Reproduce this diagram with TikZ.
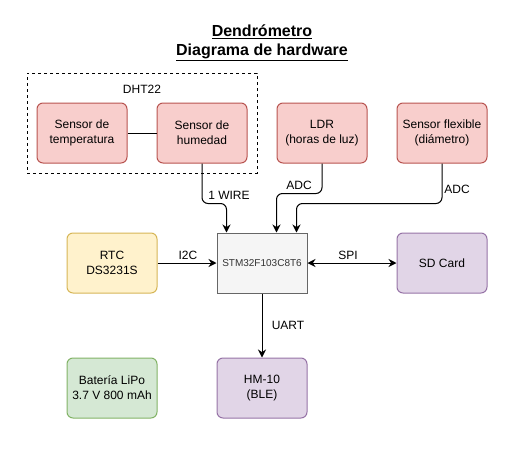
\documentclass[tikz,border=0pt]{standalone}
\usepackage{fontspec}
\setmainfont{Liberation Sans}
\usetikzlibrary{arrows.meta}
\definecolor{redfill}{HTML}{F8CECC}
\definecolor{redline}{HTML}{B85450}
\definecolor{yelfill}{HTML}{FFF2CC}
\definecolor{yelline}{HTML}{D6B656}
\definecolor{purfill}{HTML}{E1D5E7}
\definecolor{purline}{HTML}{9673A6}
\definecolor{grnfill}{HTML}{D5E8D4}
\definecolor{grnline}{HTML}{82B366}
\definecolor{mcufill}{HTML}{F5F5F5}
\definecolor{mculine}{HTML}{666666}
\definecolor{mcutext}{HTML}{333333}

\begin{document}
\begin{tikzpicture}[x=0.75pt,y=-0.75pt,font=\fontsize{9}{11.25}\selectfont,
        block/.style={draw,rounded corners=4.5pt,line width=0.75pt,minimum width=67.5pt,minimum height=45pt,align=center,inner sep=0pt},
        sensor/.style={block,fill=redfill,draw=redline},
        link/.style={line width=0.75pt,rounded corners=4.5pt,-{Stealth[length=6pt,width=6pt,inset=2pt]}},
        tag/.style={inner sep=0pt}]
        \useasboundingbox (0,0) rectangle (522,454);

        \coordinate (temp) at (82,133);
        \coordinate (hum) at (202,133);
        \coordinate (ldr) at (322,133);
        \coordinate (flex) at (442,133);
        \coordinate (mcu) at (262,263);
        \coordinate (rtc) at (112,263);
        \coordinate (sd) at (442,263);
        \coordinate (bat) at (112,388);
        \coordinate (ble) at (262,388);

        % titulo
        \node[font=\fontsize{12}{14.25}\selectfont\bfseries,align=center] (title) at (262,43) {\underline{Dendrómetro}\\\underline{Diagrama de hardware}};

        % DHT22
        \node[draw,line width=0.75pt,dash pattern=on 2.25pt off 2.25pt,minimum width=172.5pt,minimum height=75pt] (DHT) at (142,123) {};
        \node[tag] (DHTlabel) at (142,89) {DHT22};

        \node[sensor] (TempNode) at (temp) {Sensor de\\temperatura};
        \node[sensor] (HumNode) at (hum) {Sensor de\\humedad};
        \node[sensor] (LdrNode) at (ldr) {LDR\\(horas de luz)};
        \node[sensor] (FlexNode) at (flex) {Sensor flexible\\(diámetro)};

        \node[block,fill=mcufill,draw=mculine,rounded corners=0pt,text=mcutext,font=\fontsize{7.5}{9}\selectfont] (McuNode) at (mcu) {STM32F103C8T6};
        \node[block,fill=yelfill,draw=yelline] (RtcNode) at (rtc) {RTC\\DS3231S};
        \node[block,fill=purfill,draw=purline] (SdNode) at (sd) {SD Card};
        \node[block,fill=grnfill,draw=grnline] (BatNode) at (bat) {Batería LiPo\\3.7 V 800 mAh};
        \node[block,fill=purfill,draw=purline] (BleNode) at (ble) {HM-10\\(BLE)};

        \draw[line width=0.75pt] (TempNode) -- (HumNode);

        \draw[link] (HumNode.south) -- ++(0,40) -| ([xshift=7.5pt]McuNode.north west);
        \draw[link] (LdrNode.south) -- ++(0,30) -| ([xshift=45pt]McuNode.north west);
        \draw[link] (FlexNode.south) -- ++(0,40) -| ([xshift=60pt]McuNode.north west);
        \draw[link] (RtcNode) -- (McuNode);
        \draw[link,{Stealth[length=6pt,width=6pt,inset=2pt]}-{Stealth[length=6pt,width=6pt,inset=2pt]}] (McuNode) -- (SdNode);
        \draw[link] (McuNode) -- (BleNode);

        \node[tag] (WireLabel) at (229,195) {1 WIRE};
        \node[tag] (AdcLdrLabel) at (299,185) {ADC};
        \node[tag] (AdcFlexLabel) at (457,189) {ADC};
        \node[tag] (I2cLabel) at (188,255) {I2C};
        \node[tag] (SpiLabel) at (348,255) {SPI};
        \node[tag] (UartLabel) at (288,325) {UART};
    \end{tikzpicture}
\end{document}
